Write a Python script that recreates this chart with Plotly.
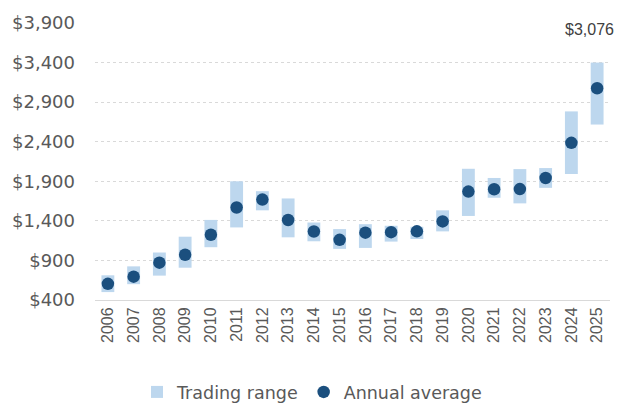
import plotly.graph_objects as go

years = list(range(2006, 2026))
range_low = [500, 600, 708, 808, 1067, 1317, 1533, 1192, 1142, 1046,
             1058, 1138, 1171, 1267, 1462, 1692, 1621, 1817, 1992, 2617]
range_high = [712, 825, 1000, 1200, 1412, 1900, 1775, 1683, 1379, 1296,
              1358, 1338, 1325, 1533, 2058, 1942, 2054, 2067, 2783, 3400]
annual_avg = [604, 695, 872, 972, 1225, 1569, 1669, 1411, 1266, 1160,
              1251, 1257, 1268, 1393, 1770, 1799, 1801, 1941, 2386, 3076]
y_ticks = [400, 900, 1400, 1900, 2400, 2900, 3400, 3900]

fig = go.Figure()

fig.add_trace(go.Bar(
    x=years,
    base=range_low,
    y=[h - l for h, l in zip(range_high, range_low)],
    width=0.5,
    marker=dict(color="#BDD7EE", line=dict(width=0)),
    name="Trading range",
    hoverinfo="skip",
))

fig.add_trace(go.Scatter(
    x=years,
    y=annual_avg,
    mode="markers",
    marker=dict(color="#1B4F7E", size=12.5, line=dict(width=0)),
    name="Annual average",
))

fig.add_annotation(
    x=years[-1], y=range_high[-1],
    text=f"${annual_avg[-1]:,}",
    showarrow=False,
    yanchor="middle", yshift=33, xshift=-8,
    font=dict(family="Liberation Sans, Arial", size=16, color="#404040"),
)

fig.update_layout(
    width=624, height=405,
    margin=dict(l=93, r=14, t=20, b=105),
    paper_bgcolor="white",
    plot_bgcolor="white",
    showlegend=True,
    legend=dict(
        orientation="h",
        xref="container", yref="container",
        x=0.5, xanchor="center",
        y=0.032, yanchor="middle",
        font=dict(family="DejaVu Sans", size=17.5, color="#595959"),
        traceorder="normal",
    ),
)

fig.update_xaxes(
    type="linear",
    range=[years[0] - 0.5, years[-1] + 0.5],
    tickvals=years,
    ticktext=[str(y) for y in years],
    tickangle=-90,
    tickfont=dict(family="Liberation Sans, Arial", size=16, color="#595959"),
    showgrid=False,
    showline=True,
    linecolor="#D9D9D9",
    linewidth=1,
    ticks="",
    zeroline=False,
)

fig.update_yaxes(
    range=[400, 3900],
    tickvals=y_ticks,
    ticktext=[f"${v:,}" for v in y_ticks],
    tickfont=dict(family="DejaVu Sans", size=18, color="#595959"),
    showgrid=True,
    gridcolor="#D9D9D9",
    griddash="dot",
    gridwidth=1,
    zeroline=False,
    showline=False,
    ticks="",
    ticklabelstandoff=19,
)

fig.write_html("out.html")
